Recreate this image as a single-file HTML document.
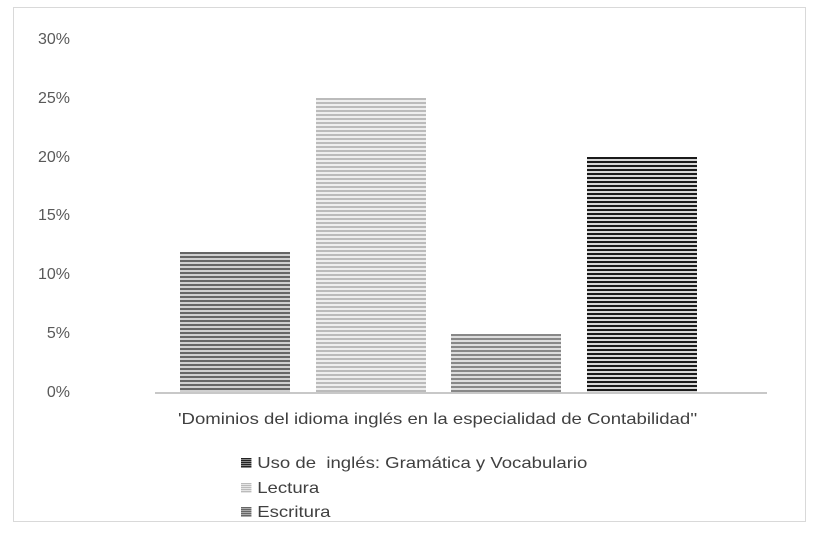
<!DOCTYPE html>
<html><head><meta charset="utf-8"><style>
body{margin:0;width:823px;height:536px;background:#fff;position:relative;font-family:"Liberation Sans",sans-serif;overflow:hidden}
.frame{position:absolute;left:13px;top:7px;width:793px;height:515px;border:1.5px solid #d9d9d9;box-sizing:border-box}
.yl{position:absolute;left:20px;width:50px;text-align:right;font-size:16px;color:#595959}
.bar{position:absolute;bottom:143px;width:110px}
.axis{position:absolute;left:155px;width:612px;top:392px;height:1.5px;background:#c8c8c8}
.t{position:absolute;font-size:16px;color:#404040;transform:scaleX(1.16);transform-origin:left center;white-space:nowrap}
.sw{display:inline-block;width:9px;height:10px;margin-right:5px;vertical-align:0}
</style></head><body>
<div class="frame"></div>
<div class="yl" style="top:31px">30%</div>
<div class="yl" style="top:90px">25%</div>
<div class="yl" style="top:149px">20%</div>
<div class="yl" style="top:207px">15%</div>
<div class="yl" style="top:266px">10%</div>
<div class="yl" style="top:325px">5%</div>
<div class="yl" style="top:384px">0%</div>
<div class="bar" style="left:180px;top:252px;background:repeating-linear-gradient(#666 0 2px,#d0d0d0 2px 4px)"></div>
<div class="bar" style="left:316px;top:98px;background:repeating-linear-gradient(#bbb 0 2px,#eee 2px 4px)"></div>
<div class="bar" style="left:451px;top:334px;background:repeating-linear-gradient(#888 0 2px,#ddd 2px 4px)"></div>
<div class="bar" style="left:587px;top:157px;background:repeating-linear-gradient(#1a1a1a 0 2px,#d8d8d8 2px 4px)"></div>
<div class="axis"></div>
<div class="t" style="left:178px;top:411px">'Dominios del idioma inglés en la especialidad de Contabilidad''</div>
<div class="t" style="left:241px;top:455px"><span class="sw" style="background:repeating-linear-gradient(#222 0 1px,#888 1px 2px)"></span>Uso de&nbsp; inglés: Gramática y Vocabulario</div>
<div class="t" style="left:241px;top:480px"><span class="sw" style="background:repeating-linear-gradient(#bbb 0 1px,#e5e5e5 1px 2px)"></span>Lectura</div>
<div class="t" style="left:241px;top:504px"><span class="sw" style="background:repeating-linear-gradient(#666 0 1px,#aaa 1px 2px)"></span>Escritura</div>
</body></html>
